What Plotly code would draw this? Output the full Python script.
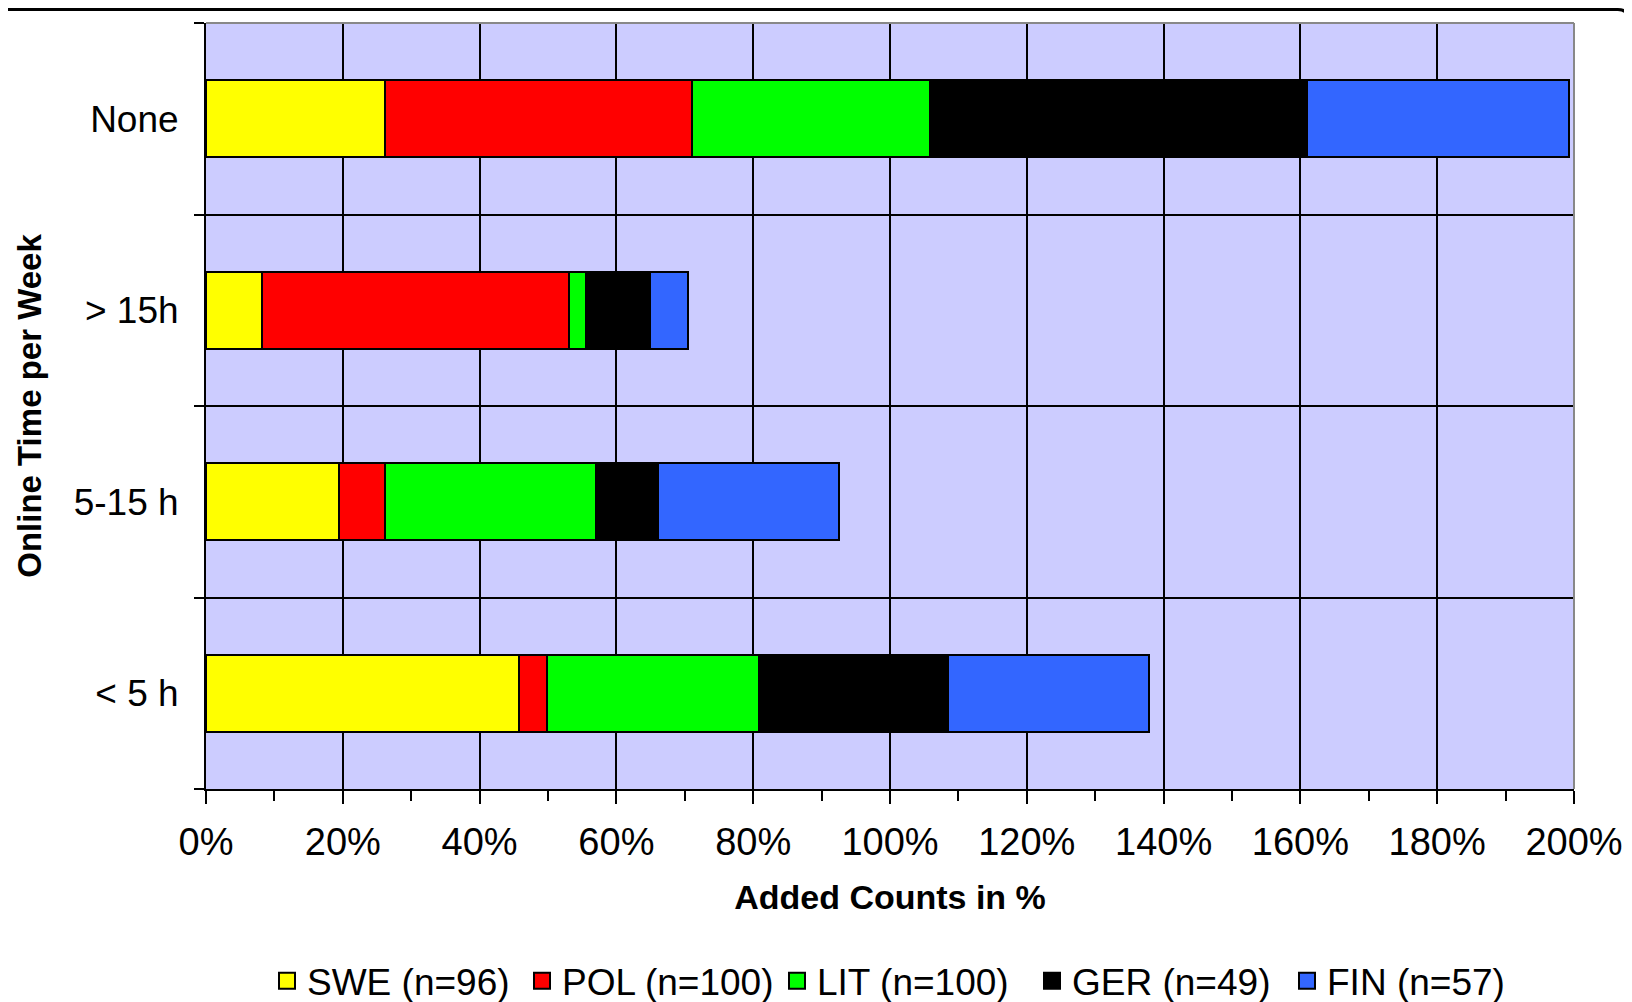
import plotly.graph_objects as go

# categories bottom -> top (plotly draws the first category at the bottom)
categories = ["< 5 h", "5-15 h", "> 15h", "None"]

swe = [45.7, 19.5, 8.2, 26.2]
pol = [4.2, 6.6, 44.9, 44.9]
lit = [31.0, 30.9, 2.5, 34.7]
ger = [27.6, 9.1, 9.3, 55.1]
fin = [29.4, 26.5, 5.5, 38.3]

series_names = ["SWE (n=96)", "POL (n=100)", "LIT (n=100)", "GER (n=49)", "FIN (n=57)"]
series_values = [swe, pol, lit, ger, fin]
series_colors = ["#FFFF00", "#FF0000", "#00FF00", "#000000", "#3366FF"]

x_ticks = list(range(0, 201, 20))
x_tick_labels = [f"{v}%" for v in x_ticks]

FONT = "Arial, Liberation Sans, sans-serif"

fig = go.Figure()
for name, values, color in zip(series_names, series_values, series_colors):
    fig.add_trace(
        go.Bar(
            y=categories,
            x=values,
            name=name,
            legendgroup=name,
            showlegend=False,
            orientation="h",
            marker=dict(color=color, line=dict(color="#000000", width=2)),
        )
    )
    # legend-only entry so the key square can be drawn larger than the bar swatch
    fig.add_trace(
        go.Scatter(
            x=[None],
            y=[None],
            name=name,
            legendgroup=name,
            mode="markers",
            marker=dict(symbol="square", size=16, color=color, line=dict(color="#000000", width=2)),
        )
    )

# the page body adds an 8px offset; margins are shifted to compensate and the
# figure runs a little past the bottom of the window so the legend has room
fig.update_layout(
    width=1632,
    height=1030,
    barmode="stack",
    bargap=0.6,
    plot_bgcolor="#CCCCFF",
    paper_bgcolor="#FFFFFF",
    font=dict(family=FONT, size=36, color="#000000"),
    margin=dict(l=198, r=66, t=15, b=249),
    legend=dict(
        orientation="h",
        x=0.0446,
        xanchor="left",
        y=-0.251,
        yanchor="middle",
        font=dict(family=FONT, size=37, color="#000000"),
        traceorder="normal",
        itemwidth=30,
        entrywidth=210,
        entrywidthmode="pixels",
    ),
    shapes=[
        # gray plot-area border on top and right (Excel style)
        dict(type="line", xref="paper", yref="paper", x0=0, x1=1, y0=1, y1=1,
             line=dict(color="#888888", width=2), layer="above"),
        dict(type="line", xref="paper", yref="paper", x0=1, x1=1, y0=0, y1=1,
             line=dict(color="#888888", width=2), layer="above"),
        # outer frame line across the top of the picture
        dict(type="path", xref="paper", yref="paper",
             path="M -0.145,1.0175 L 1.032,1.0175 Q 1.0395,1.0175 1.0395,1.006",
             line=dict(color="#000000", width=3)),
    ],
)

fig.update_xaxes(
    automargin=False,
    range=[0, 200],
    tickvals=x_ticks,
    ticktext=x_tick_labels,
    ticks="outside",
    ticklen=13,
    tickwidth=2,
    tickcolor="#000000",
    tickfont=dict(family=FONT, size=38),
    ticklabelstandoff=5,
    minor=dict(dtick=10, ticks="outside", ticklen=10, tickwidth=2, tickcolor="#000000", showgrid=False),
    showgrid=True,
    gridcolor="#000000",
    gridwidth=2,
    showline=True,
    linecolor="#000000",
    linewidth=2,
    zeroline=False,
    title=dict(text="<b>Added Counts in %</b>", font=dict(family=FONT, size=34), standoff=24),
)

fig.update_yaxes(
    automargin=False,
    type="category",
    categoryorder="array",
    categoryarray=categories,
    range=[-0.5, 3.5],
    tickson="boundaries",
    ticks="outside",
    ticklen=10,
    tickwidth=2,
    tickcolor="#000000",
    tickfont=dict(family=FONT, size=37),
    ticklabelstandoff=18,
    showgrid=True,
    gridcolor="#000000",
    gridwidth=2,
    showline=True,
    linecolor="#000000",
    linewidth=2,
    zeroline=False,
    title=dict(text="<b>Online Time per Week</b>", font=dict(family=FONT, size=33), standoff=22),
)

fig.write_html("out.html")
